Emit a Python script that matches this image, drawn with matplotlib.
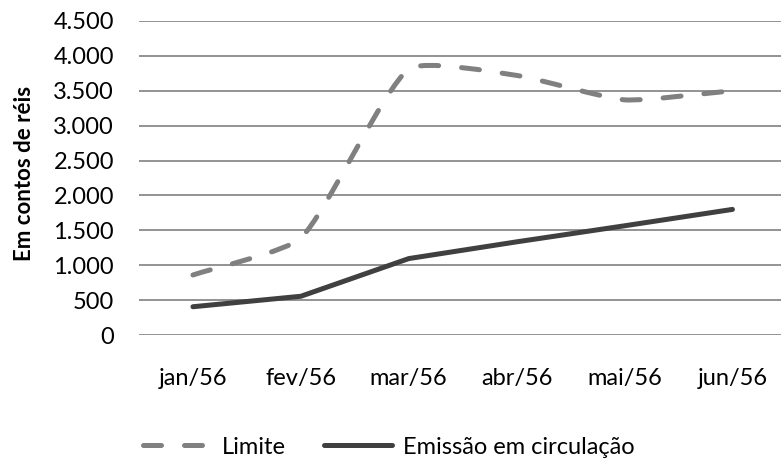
import numpy as np
import matplotlib.pyplot as plt
from matplotlib.path import Path
from matplotlib.patches import PathPatch
from matplotlib.lines import Line2D
from matplotlib.ticker import FuncFormatter

# Monthly values, in contos de réis
meses = ['jan/56', 'fev/56', 'mar/56', 'abr/56', 'mai/56', 'jun/56']
limite = [860, 1390, 3810, 3720, 3370, 3500]
emissao = [405, 555, 1095, 1335, 1565, 1800]

cor_limite = '#808080'
cor_emissao = '#404040'
lw = 3.6
dash = (3.6, 4.6)

plt.rcParams['font.family'] = ['Lato', 'DejaVu Sans']


def smooth_path(ax, xs, ys, k=0.18):
    # bezier through the points, tangents weighted by segment length in pixels
    tr = ax.transData
    pts = tr.transform(np.column_stack([xs, ys]).astype(float))
    n = len(pts)
    d = np.hypot(*np.diff(pts, axis=0).T)
    tang = []
    for i in range(n):
        a = pts[max(i - 1, 0)]
        b = pts[min(i + 1, n - 1)]
        span = (d[i - 1] if i > 0 else 0) + (d[i] if i < n - 1 else 0)
        tang.append((b - a) / span)
    verts = [pts[0]]
    codes = [Path.MOVETO]
    for i in range(n - 1):
        c1 = pts[i] + tang[i] * d[i] * k
        c2 = pts[i + 1] - tang[i + 1] * d[i] * k
        verts += [c1, c2, pts[i + 1]]
        codes += [Path.CURVE4] * 3
    verts = tr.inverted().transform(np.array(verts))
    return Path(verts, codes)


fig = plt.figure(figsize=(7.81, 4.58), dpi=100)
ax = fig.add_axes([139 / 781, 123 / 458, 642 / 781, 314 / 458])

x = np.arange(len(meses))
ax.set_xlim(-0.5, 5.45)
ax.set_ylim(0, 4500)

ax.add_patch(PathPatch(smooth_path(ax, x, limite), fill=False, edgecolor=cor_limite,
                       lw=lw, linestyle=(0, dash), capstyle='round', zorder=3))
ax.plot(x, emissao, color=cor_emissao, lw=lw, solid_capstyle='round',
        solid_joinstyle='round', zorder=3)

ax.set_yticks(np.arange(0, 4501, 500))
ax.yaxis.set_major_formatter(FuncFormatter(lambda v, p: f'{int(v):,}'.replace(',', '.')))
ax.set_xticks(x)
ax.set_xticklabels(meses)
ax.grid(axis='y', color='#8a8a8a', lw=1.3)
ax.set_axisbelow(True)
for s in ax.spines.values():
    s.set_visible(False)
ax.tick_params(length=0, labelsize=17, colors='black')
ax.tick_params(axis='y', pad=18)
ax.tick_params(axis='x', pad=24)

fig.text(25 / 781, 1 - 173 / 458, 'Em contos de réis', rotation=90, fontsize=16,
         fontweight='bold', ha='center', va='center')

handles = [
    Line2D([], [], color=cor_limite, lw=lw, linestyle=(0, dash), dash_capstyle='round'),
    Line2D([], [], color=cor_emissao, lw=lw, solid_capstyle='round'),
]
fig.legend(handles, ['Limite', 'Emissão em circulação'], loc='center left',
           bbox_to_anchor=(143 / 781, 1 - 447 / 458), ncol=2, frameon=False,
           fontsize=17, handlelength=2.9, handletextpad=0.45, columnspacing=1.6,
           borderpad=0, borderaxespad=0)

fig.savefig('out.png', dpi=100)
